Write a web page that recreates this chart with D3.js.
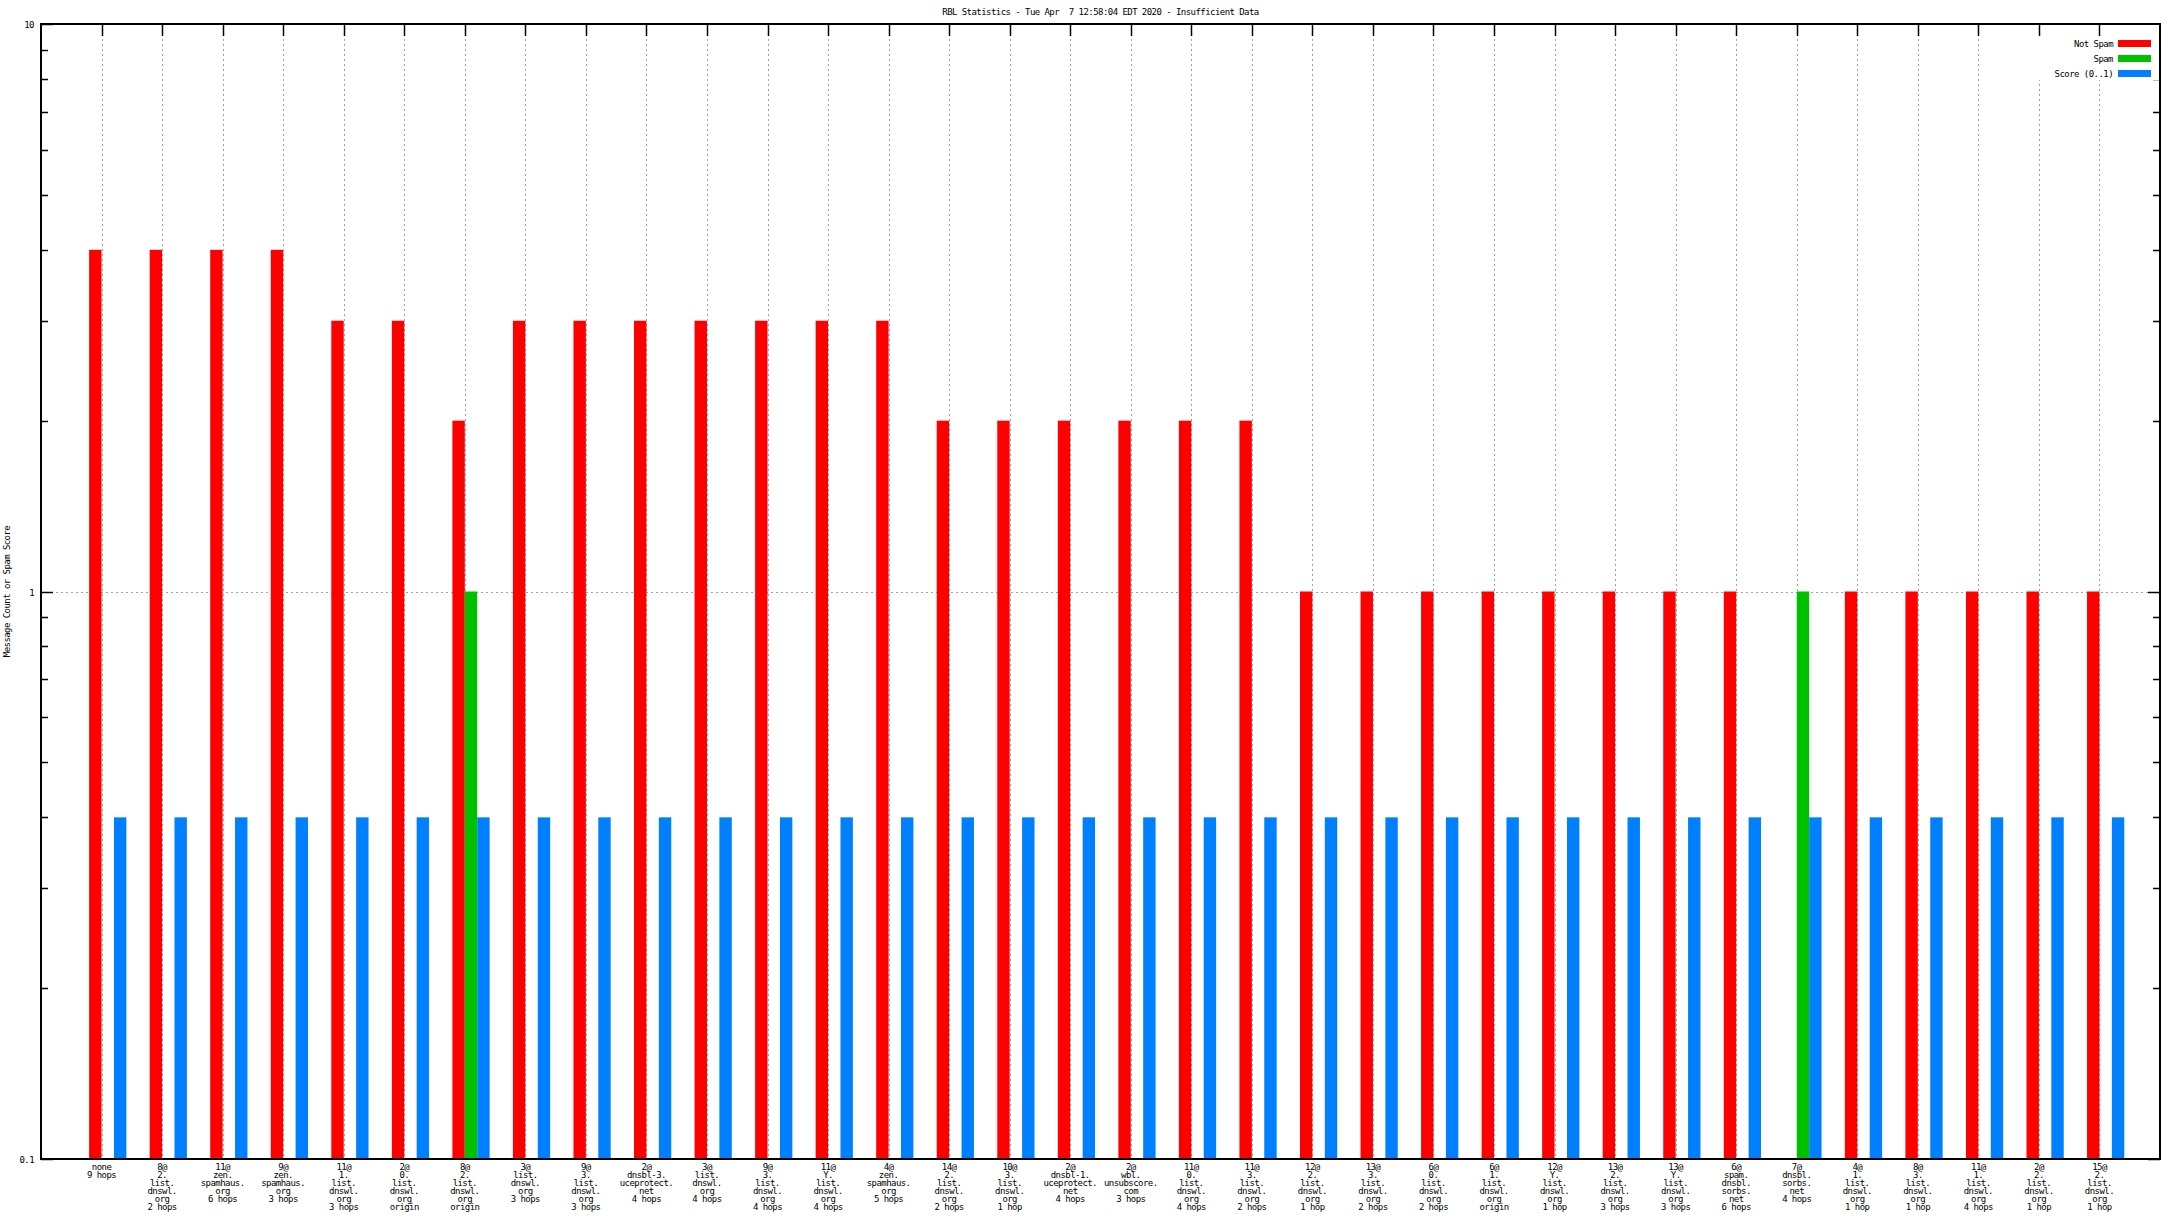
<!DOCTYPE html>
<html><head><meta charset="utf-8">
<script src="https://cdn.jsdelivr.net/npm/d3@7"></script>
<style>
html,body{margin:0;padding:0;background:#fff;}
svg text{font-family:"DejaVu Sans Mono",monospace;font-size:9px;letter-spacing:-0.55px;fill:#000;white-space:pre;}
</style></head>
<body>
<svg id="c" width="2176" height="1224"></svg>
<script>
const title = "RBL Statistics - Tue Apr  7 12:58:04 EDT 2020 - Insufficient Data";
const yAxisTitle = "Message Count or Spam Score";
const categories = [
  ["none","9 hops"],
  ["8@","2.","list.","dnswl.","org","2 hops"],
  ["11@","zen.","spamhaus.","org","6 hops"],
  ["9@","zen.","spamhaus.","org","3 hops"],
  ["11@","1.","list.","dnswl.","org","3 hops"],
  ["2@","0.","list.","dnswl.","org","origin"],
  ["8@","2.","list.","dnswl.","org","origin"],
  ["3@","list.","dnswl.","org","3 hops"],
  ["9@","3.","list.","dnswl.","org","3 hops"],
  ["2@","dnsbl-3.","uceprotect.","net","4 hops"],
  ["3@","list.","dnswl.","org","4 hops"],
  ["9@","3.","list.","dnswl.","org","4 hops"],
  ["11@","Y.","list.","dnswl.","org","4 hops"],
  ["4@","zen.","spamhaus.","org","5 hops"],
  ["14@","2.","list.","dnswl.","org","2 hops"],
  ["10@","3.","list.","dnswl.","org","1 hop"],
  ["2@","dnsbl-1.","uceprotect.","net","4 hops"],
  ["2@","wbl.","unsubscore.","com","3 hops"],
  ["11@","0.","list.","dnswl.","org","4 hops"],
  ["11@","3.","list.","dnswl.","org","2 hops"],
  ["12@","2.","list.","dnswl.","org","1 hop"],
  ["13@","3.","list.","dnswl.","org","2 hops"],
  ["6@","0.","list.","dnswl.","org","2 hops"],
  ["6@","1.","list.","dnswl.","org","origin"],
  ["12@","Y.","list.","dnswl.","org","1 hop"],
  ["13@","2.","list.","dnswl.","org","3 hops"],
  ["13@","Y.","list.","dnswl.","org","3 hops"],
  ["6@","spam.","dnsbl.","sorbs.","net","6 hops"],
  ["7@","dnsbl.","sorbs.","net","4 hops"],
  ["4@","1.","list.","dnswl.","org","1 hop"],
  ["8@","3.","list.","dnswl.","org","1 hop"],
  ["11@","1.","list.","dnswl.","org","4 hops"],
  ["2@","2.","list.","dnswl.","org","1 hop"],
  ["15@","2.","list.","dnswl.","org","1 hop"]
];
const notSpam = [4,4,4,4,3,3,2,3,3,3,3,3,3,3,2,2,2,2,2,2,1,1,1,1,1,1,1,1,0,1,1,1,1,1];
const spam    = [0,0,0,0,0,0,1,0,0,0,0,0,0,0,0,0,0,0,0,0,0,0,0,0,0,0,0,0,1,0,0,0,0,0];
const score   = [0.4,0.4,0.4,0.4,0.4,0.4,0.4,0.4,0.4,0.4,0.4,0.4,0.4,0.4,0.4,0.4,0.4,0.4,0.4,0.4,0.4,0.4,0.4,0.4,0.4,0.4,0.4,0.4,0.4,0.4,0.4,0.4,0.4,0.4];
const seriesNames = ["Not Spam","Spam","Score (0..1)"];
const seriesColors = ["#ff0000","#00c000","#0080ff"];
const yTickValues = [0.1,1,10];
const yTickLabels = ["0.1","1","10"];

const svg = d3.select("#c");
const L=41, R=2160, T=24, B=1159;
const n = categories.length;
const x = d3.scaleLinear().domain([-1, n]).range([L, R]);
const y = d3.scaleLog().domain([0.1, 10]).range([B, T]);
const bw = 0.205;

// grid
const g = svg.append("g");
g.selectAll("line.vg").data(d3.range(n)).enter().append("line")
  .attr("x1", i=>Math.round(x(i))+0.5).attr("x2", i=>Math.round(x(i))+0.5)
  .attr("y1", T).attr("y2", B)
  .attr("stroke","#a0a0a0").attr("stroke-width",1).attr("stroke-dasharray","2,3");
g.append("line").attr("x1",L).attr("x2",R).attr("y1",Math.round(y(1))+0.5).attr("y2",Math.round(y(1))+0.5)
  .attr("stroke","#a0a0a0").attr("stroke-width",1).attr("stroke-dasharray","2,3");

// bars
const series = [notSpam, spam, score];
const offs = [-bw, 0, bw];
series.forEach((vals, s) => {
  svg.append("g").selectAll("rect").data(vals.map((v,i)=>({v,i})).filter(d=>d.v>0.1))
    .enter().append("rect")
    .attr("x", d=>x(d.i+offs[s]))
    .attr("width", d=>x(d.i+offs[s]+bw)-x(d.i+offs[s]))
    .attr("y", d=>y(d.v))
    .attr("height", d=>B-y(d.v))
    .attr("fill", seriesColors[s]);
});

// top ticks
svg.append("g").selectAll("line").data(d3.range(n)).enter().append("line")
  .attr("x1", i=>Math.round(x(i))+0.5).attr("x2", i=>Math.round(x(i))+0.5)
  .attr("y1", T).attr("y2", T+12).attr("stroke","#000").attr("stroke-width",1.5);

// y ticks (log minor)
const minor = [];
[0.1,1].forEach(dec=>{ for(let k=2;k<=9;k++) minor.push(dec*k); });
const yt = svg.append("g");
minor.forEach(v=>{
  const yy = Math.round(y(v))+0.5;
  yt.append("line").attr("x1",L).attr("x2",L+7).attr("y1",yy).attr("y2",yy).attr("stroke","#000").attr("stroke-width",1.5);
  yt.append("line").attr("x1",R).attr("x2",R-7).attr("y1",yy).attr("y2",yy).attr("stroke","#000").attr("stroke-width",1.5);
});
yTickValues.forEach((v,i)=>{
  const yy = Math.round(y(v))+0.5;
  yt.append("line").attr("x1",L).attr("x2",L+12).attr("y1",yy).attr("y2",yy).attr("stroke","#000").attr("stroke-width",1.5);
  yt.append("line").attr("x1",R).attr("x2",R-12).attr("y1",yy).attr("y2",yy).attr("stroke","#000").attr("stroke-width",1.5);
  yt.append("text").attr("x",34).attr("y",yy).attr("dy","0.35em").attr("text-anchor","end").text(yTickLabels[i]);
});

// border
svg.append("rect").attr("x",L).attr("y",T).attr("width",R-L).attr("height",B-T)
  .attr("fill","none").attr("stroke","#000").attr("stroke-width",2);

// x labels
const xl = svg.append("g");
categories.forEach((lines,i)=>{
  const t = xl.append("text").attr("x", x(i)).attr("y", 1167).attr("text-anchor","middle");
  lines.forEach((ln,j)=>{
    t.append("tspan").attr("x", x(i)).attr("y", 1167 + j*8).attr("dy","0.35em").text(ln);
  });
});

// title
svg.append("text").attr("x",(L+R)/2).attr("y",12).attr("dy","0.35em").attr("text-anchor","middle").text(title);

// y axis title
svg.append("text").attr("transform","translate(7,"+((T+B)/2)+") rotate(-90)")
  .attr("dy","0.35em").attr("text-anchor","middle").text(yAxisTitle);

// legend
const lg = svg.append("g");
lg.append("rect").attr("x",2035).attr("y",T+1).attr("width",R-2035-1).attr("height",55).attr("fill","#fff");
seriesNames.forEach((nm,i)=>{
  const yy = 43.5 + i*15;
  lg.append("text").attr("x",2113).attr("y",yy).attr("dy","0.35em").attr("text-anchor","end").text(nm);
  lg.append("rect").attr("x",2118).attr("y",yy-3.5).attr("width",33).attr("height",7).attr("fill",seriesColors[i]);
});
// redraw top ticks over legend bg
svg.append("g").selectAll("line").data(d3.range(n).filter(i=>x(i)>2030)).enter().append("line")
  .attr("x1", i=>Math.round(x(i))+0.5).attr("x2", i=>Math.round(x(i))+0.5)
  .attr("y1", T).attr("y2", T+12).attr("stroke","#000").attr("stroke-width",1.5);
</script>
</body></html>
